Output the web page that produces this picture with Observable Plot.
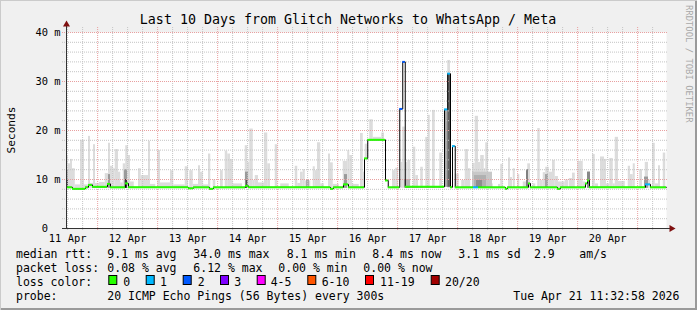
<!DOCTYPE html>
<html><head><meta charset="utf-8">
<script src="https://cdn.jsdelivr.net/npm/d3@7"></script>
<script src="https://cdn.jsdelivr.net/npm/@observablehq/plot@0.6"></script>
<style>
body{margin:0;background:#fff}
#wrap{position:relative;width:697px;height:310px;background:#f0f0f0;overflow:hidden;font-family:"DejaVu Sans Mono",monospace}
#wrap::after{content:"";position:absolute;left:0;top:0;right:0;bottom:0;box-shadow:inset 1px 1px 0 #cbcbcb, inset -2px -2px 0 #9a9a9a;pointer-events:none}
#chart{position:absolute;left:0;top:0}
#overlay{position:absolute;left:0;top:0}
</style></head><body>
<div id="wrap"><div id="chart"></div><svg id="overlay" width="697" height="310"></svg></div>
<script>
// ---------------- data ----------------
const title = "Last 10 Days from Glitch Networks to WhatsApp / Meta";
const yLabel = "Seconds";
const watermark = "RRDTOOL / TOBI OETIKER";
const windowStart = "2026-04-11T11:32:58Z";
const windowHours = 240;
const yTicks = [0, 10, 20, 30, 40];          // ms
const smokeFloor = 8.2;                       // ms, fastest ping

// light smoke: [fromHour, toHour, topMs, (lowMs)]
const smokeLight = [
 [0,0.7,14.9],[0.7,1.6,13.2],[1.6,2.4,14.1],[2.4,3.5,12.2],[3.5,5.6,8.9],[5.6,7.2,18.0],[7.2,8.8,8.9],
 [8.8,9.6,18.8],[9.6,10.8,9.2],[10.8,11.6,17.1],[11.6,13.2,9.2],[13.2,15.5,9.4],[15.5,16.8,11.2],
 [16.8,17.6,17.4],[17.6,18.7,12.7],[18.7,19.5,12.2],[19.5,20.8,16.1],[20.8,21.7,11.5],[21.7,22.7,9.3],
 [22.7,23.7,13.2],[23.7,24.7,16.9],[24.7,25.6,14.9],[25.6,27.1,9.5],[28.8,29.9,12.2],[29.9,32.8,10.8],
 [32.8,33.6,17.8],[33.6,35.7,9.0],[36.5,37.6,15.9],[37.6,41.6,9.3],[41.6,42.9,11.8],[42.9,47.5,8.9],
 [47.5,48.8,12.6],[49.3,50.7,11.8],[50.7,52.8,9.0],[52.8,53.6,12.8],[53.6,54.7,11.5],[54.7,56.8,8.9],
 [56.8,57.7,15.2],[58.7,59.7,9.9],[61.6,62.7,11.8],[63.5,64.5,15.8],[64.5,65.6,15.2],[65.6,66.7,14.1],
 [66.7,70.4,9.1],[71.5,72.5,16.9],[72.5,73.3,13.5],[73.3,74.7,20.3],[74.7,75.5,9.8],[75.5,76.8,10.8],
 [76.8,79.2,9.3],[79.2,80.5,19.5],[80.5,81.6,13.2],[83.5,84.5,17.1],[85.7,89.1,9.1],[91.5,92.5,12.7],
 [92.5,93.6,9.2],[93.6,94.7,11.5],[94.7,95.5,12.0],[95.5,97.7,9.7],[98.7,99.5,12.6],[99.5,100.4,11.8],
 [100.4,101.7,17.5],[101.7,103.1,9.1],[104.8,105.6,15.2],[105.6,106.7,13.4],[106.7,109.1,9.0],
 [110.7,112.5,13.7],[112.5,113.3,15.9],[113.3,114.4,14.9],[114.4,117.1,9.0],[117.6,118.7,19.4],
 [118.7,119.2,11.5],[119.5,120.5,17.2,14.3],[121.3,122.7,22.2,18.1],[122.7,126.1,18.6,18.1],
 [126.1,127.2,19.5,18.1],[130.4,131.7,11.8],[131.7,132.8,12.3],[133.9,134.7,13.5],[134.5,135.5,20.7],
 [135.5,136.5,13.5],[136.5,137.7,13.9],[138.7,139.7,16.6],[139.7,140.8,10.8],[141.7,142.7,12.5],
 [143.7,144.7,18.6],[144.7,145.5,23.1],[146.4,147.5,24.1],[149.3,150.4,15.4],[152.5,153.6,34.3],
 [155.5,157.1,11.1],[158.1,159.5,9.8],[159.5,160.8,16.1],[160.8,161.7,12.2],[162.4,163.5,13.3],
 [163.5,164.8,22.9],[164.8,165.7,13.5],[165.7,167.1,14.9],[167.1,167.7,12.2],[167.7,168.8,17.5],
 [168.8,170.7,9.1],[172.8,173.7,9.0],[173.7,174.7,13.1],[176.8,177.6,14.4],[177.6,178.4,10.4],
 [178.7,179.5,12.2],[180.5,181.3,11.0],[182.7,184.5,9.5],[184.5,185.6,13.2],[186.7,187.7,9.1],
 [188.5,189.5,20.4],[189.5,190.7,9.8],[190.7,191.7,11.4],[191.7,193.1,12.5],[193.1,194.4,11.5],
 [194.4,195.5,13.9],[195.5,196.8,10.6],[196.8,199.5,9.5],[199.5,200.8,9.9],[201.1,202.4,10.2],
 [202.4,203.5,11.3],[204.5,206.7,13.7],[206.7,207.7,9.5],[208.5,209.6,11.6],[210.4,211.5,15.1],
 [211.5,212.8,9.1],[213.6,215.2,14.6],[215.2,216.0,14.1],[216.0,217.3,9.1],[217.3,218.7,14.3],
 [218.7,219.5,9.1],[219.5,220.8,18.6],[220.8,223.5,9.6],[224.7,225.6,12.7],[225.6,226.7,11.0],
 [226.7,227.5,13.2],[229.3,230.4,12.0],[231.5,232.8,13.5],[232.8,233.7,9.9],[234.4,235.5,17.4],
 [235.5,236.8,9.1],[236.8,237.6,12.8],[238.7,239.7,15.4]
];
// darker smoke near the median: [fromHour, toHour, lowMs, highMs, shade]
const smokeDark = [
 [0,0.8,8.2,12.0,"#a8a8a8"],[0,0.8,8.2,10.0,"#555555"],[16.8,17.6,8.2,11.0,"#999999"],
 [23.2,24.4,8.2,12.0,"#9a9a9a"],[23.6,24.4,8.2,10.0,"#3a3a3a"],[71.6,72.8,8.2,11.5,"#9a9a9a"],
 [71.9,72.5,8.2,9.8,"#505050"],[96.0,97.2,8.2,10.0,"#aaaaaa"],[111.2,112.4,8.2,11.0,"#9a9a9a"],
 [135.2,137.6,8.2,10.0,"#b4b4b4"],[151.2,152.5,8.4,24.3,"#a8a8a8"],[152.5,153.6,8.4,31.6,"#606060"],
 [162.4,170.4,8.2,11.5,"#c8c8c8"],[163.2,168.0,8.2,10.8,"#b0b0b0"],[164.0,166.4,8.2,9.8,"#8e8e8e"],
 [184.0,184.8,8.2,12.0,"#808080"],[191.6,192.8,8.2,11.0,"#a4a4a4"],[208.4,209.6,8.2,11.5,"#888888"],
 [231.2,232.8,8.2,10.5,"#9a9a9a"]
];
// median rtt steps
const medianHour = [0,2.4,7.6,8.8,10.4,16.4,17.6,23.6,24.8,48.8,50.8,57.2,58.8,71.6,72.8,105.6,106.8,110.8,112.8,
 119.2,120.5,127.6,128.7,133.3,134.5,135.5,151.2,152.5,153.6,154.4,155.5,162.8,164.8,175.6,176.4,184.8,185.6,
 196.4,197.6,207.6,208.4,209.2,231.6,233.6];
const medianMs = [8.4,8.1,8.4,8.9,8.5,9.1,8.4,9.2,8.4,8.2,8.4,8.1,8.4,8.7,8.4,8.1,8.4,9.0,8.4,
 14.3,18.1,9.8,8.4,24.4,34.0,8.5,24.3,31.6,8.4,16.8,8.4,8.4,8.4,8.1,8.4,9.2,8.4,
 8.1,8.4,9.2,9.8,8.4,9.0,8.4];
const medianLoss = [0,0,0,0,0,0,0,0,0,0,0,0,0,0,0,0,0,0,0,
 0,0,0,0,2,2,0,1,1,0,1,0,1,0,0,0,0,0,
 0,0,0,0,0,1,0];
const lossLabels = ["0","1","2","3","4-5","6-10","11-19","20/20"];
const lossColors = ["#26ff00","#00b8ff","#0059ff","#7e00ff","#ff00ff","#ff5500","#ff0000","#a10000"];
const rttItems = ["median rtt:","9.1 ms avg","34.0 ms max","8.1 ms min","8.4 ms now","3.1 ms sd","2.9","am/s"];
const lossItems = ["packet loss:","0.08 % avg","6.12 % max","0.00 % min","0.00 % now"];
const probeItems = ["probe:","20 ICMP Echo Pings (56 Bytes) every 300s","Tue Apr 21 11:32:58 2026"];
const lossColorLabel = "loss color:";

// ---------------- layout ----------------
const W = 697, H = 310;
const mono = '"DejaVu Sans Mono", monospace';
const t0ms = Date.parse(windowStart);
const T = h => new Date(t0ms + h * 3600e3);
const t0 = T(0), t1 = T(windowHours);
const sixH = d3.utcHour.every(6).range(t0, t1);
const midX = sixH.filter(d => d.getUTCHours() === 0);
const minX = sixH.filter(d => d.getUTCHours() !== 0);
const noonX = sixH.filter(d => d.getUTCHours() === 12);
const minY = d3.range(2, 40, 2).filter(v => v % 10 !== 0);
const majY = yTicks.filter(v => v > 0);

const steps = medianHour.map((h, i) => ({
  x1: T(h), x2: T(i + 1 < medianHour.length ? medianHour[i + 1] : windowHours),
  ms: medianMs[i], loss: medianLoss[i]
}));
const medLine = steps.map(d => ({t: d.x1, ms: d.ms})).concat([{t: t1, ms: medianMs[medianMs.length - 1]}]);

const chart = Plot.plot({
  width: W, height: H,
  marginTop: 32, marginBottom: 82, marginLeft: 66, marginRight: 31,
  style: {background: "transparent", fontFamily: mono, fontSize: "10.4px", color: "#000"},
  x: {type: "utc", domain: [t0, t1]},
  y: {domain: [0, 40]},
  marks: [
    Plot.frame({fill: "#ffffff", stroke: null}),
    Plot.rect(smokeLight, {x1: d => T(d[0]), x2: d => T(d[1]), y1: d => d[3] ?? smokeFloor, y2: d => d[2], fill: "#dcdcdc"}),
    Plot.rect(smokeDark, {x1: d => T(d[0]), x2: d => T(d[1]), y1: d => d[2], y2: d => d[3], fill: d => d[4]}),
    Plot.ruleX(minX, {stroke: "#c4c4c4", strokeDasharray: "1,1", insetTop: -5, insetBottom: -3}),
    Plot.ruleY(minY, {stroke: "#c4c4c4", strokeDasharray: "1,1", insetLeft: -4, insetRight: -2}),
    Plot.ruleX(midX, {stroke: "#e8a0a0", strokeDasharray: "1,1", insetTop: -5, insetBottom: -3}),
    Plot.ruleY(majY, {stroke: "#e8a0a0", strokeDasharray: "1,1", insetLeft: -4, insetRight: -2}),
    Plot.line(medLine, {x: "t", y: "ms", curve: "step-after", stroke: "#000", strokeWidth: 1}),
    Plot.ruleY(steps, {x1: "x1", x2: "x2", y: "ms", stroke: d => lossColors[d.loss], strokeWidth: 2}),
    Plot.ruleX([t0], {stroke: "#333", insetTop: -7}),
    Plot.ruleY([0], {stroke: "#333", insetLeft: -4, insetRight: -4}),
    Plot.dot([[t0, 40]], {x: d => d[0], y: d => d[1], symbol: "triangle", r: 2.6, fill: "#7f1010", stroke: null, dy: -8}),
    Plot.dot([[t1, 0]], {x: d => d[0], y: d => d[1], symbol: "triangle", r: 2.6, fill: "#7f1010", stroke: null, dx: 5, rotate: 90}),
    Plot.axisY(yTicks, {tickSize: 0, tickPadding: 6, label: null, fontSize: 10.4,
      tickFormat: v => v === 0 ? "0\u00a0\u00a0" : v + " m"}),
    Plot.axisX(noonX, {tickSize: 0, tickPadding: 6, label: null, fontSize: 10.4,
      tickFormat: d3.utcFormat("%d %b")})
  ]
});
document.getElementById("chart").appendChild(chart);

// ---------------- texts ----------------
const ov = d3.select("#overlay").style("font-family", mono);
ov.append("text").attr("x", 348).attr("y", 24).attr("text-anchor", "middle")
  .attr("font-size", 13.3).attr("fill", "#000").text(title);
ov.append("text").attr("transform", "translate(15,130) rotate(-90)").attr("text-anchor", "middle")
  .attr("font-size", 11.2).attr("fill", "#000").text(yLabel);
ov.append("text").attr("transform", "translate(685.5,5) rotate(90)").attr("text-anchor", "start")
  .attr("font-size", 8.9).attr("fill", "#a8a8a8").text(watermark);

const legendFont = 11.5;
const rowY = [258, 272, 286, 300];
const rttX = [16, 107.3, 193.3, 286.7, 372.3, 458.3, 534, 579.3];
const lossX = [16, 107.3, 193.3, 278.3, 363.3];
const probeX = [16, 107.3, 513.3];
const boxX = [108.3, 145.7, 182.7, 220, 256.7, 307.3, 365, 430.7];
const boxLabelX = [123.3, 160, 197.7, 234.3, 270.7, 321.7, 380, 445];
function row(items, xs, y) {
  items.forEach((s, i) => ov.append("text").attr("x", xs[i]).attr("y", y)
    .attr("font-size", legendFont).attr("fill", "#000").attr("xml:space", "preserve").text(s));
}
row(rttItems, rttX, rowY[0]);
row(lossItems, lossX, rowY[1]);
row([lossColorLabel], [16], rowY[2]);
lossLabels.forEach((s, i) => {
  ov.append("rect").attr("x", boxX[i] + 0.5).attr("y", rowY[2] - 10.5).attr("width", 8).attr("height", 9)
    .attr("fill", lossColors[i]).attr("stroke", "#000").attr("stroke-width", 1);
  ov.append("text").attr("x", boxLabelX[i]).attr("y", rowY[2]).attr("font-size", legendFont).attr("fill", "#000").text(s);
});
row(probeItems, probeX, rowY[3]);
</script>
</body></html>
